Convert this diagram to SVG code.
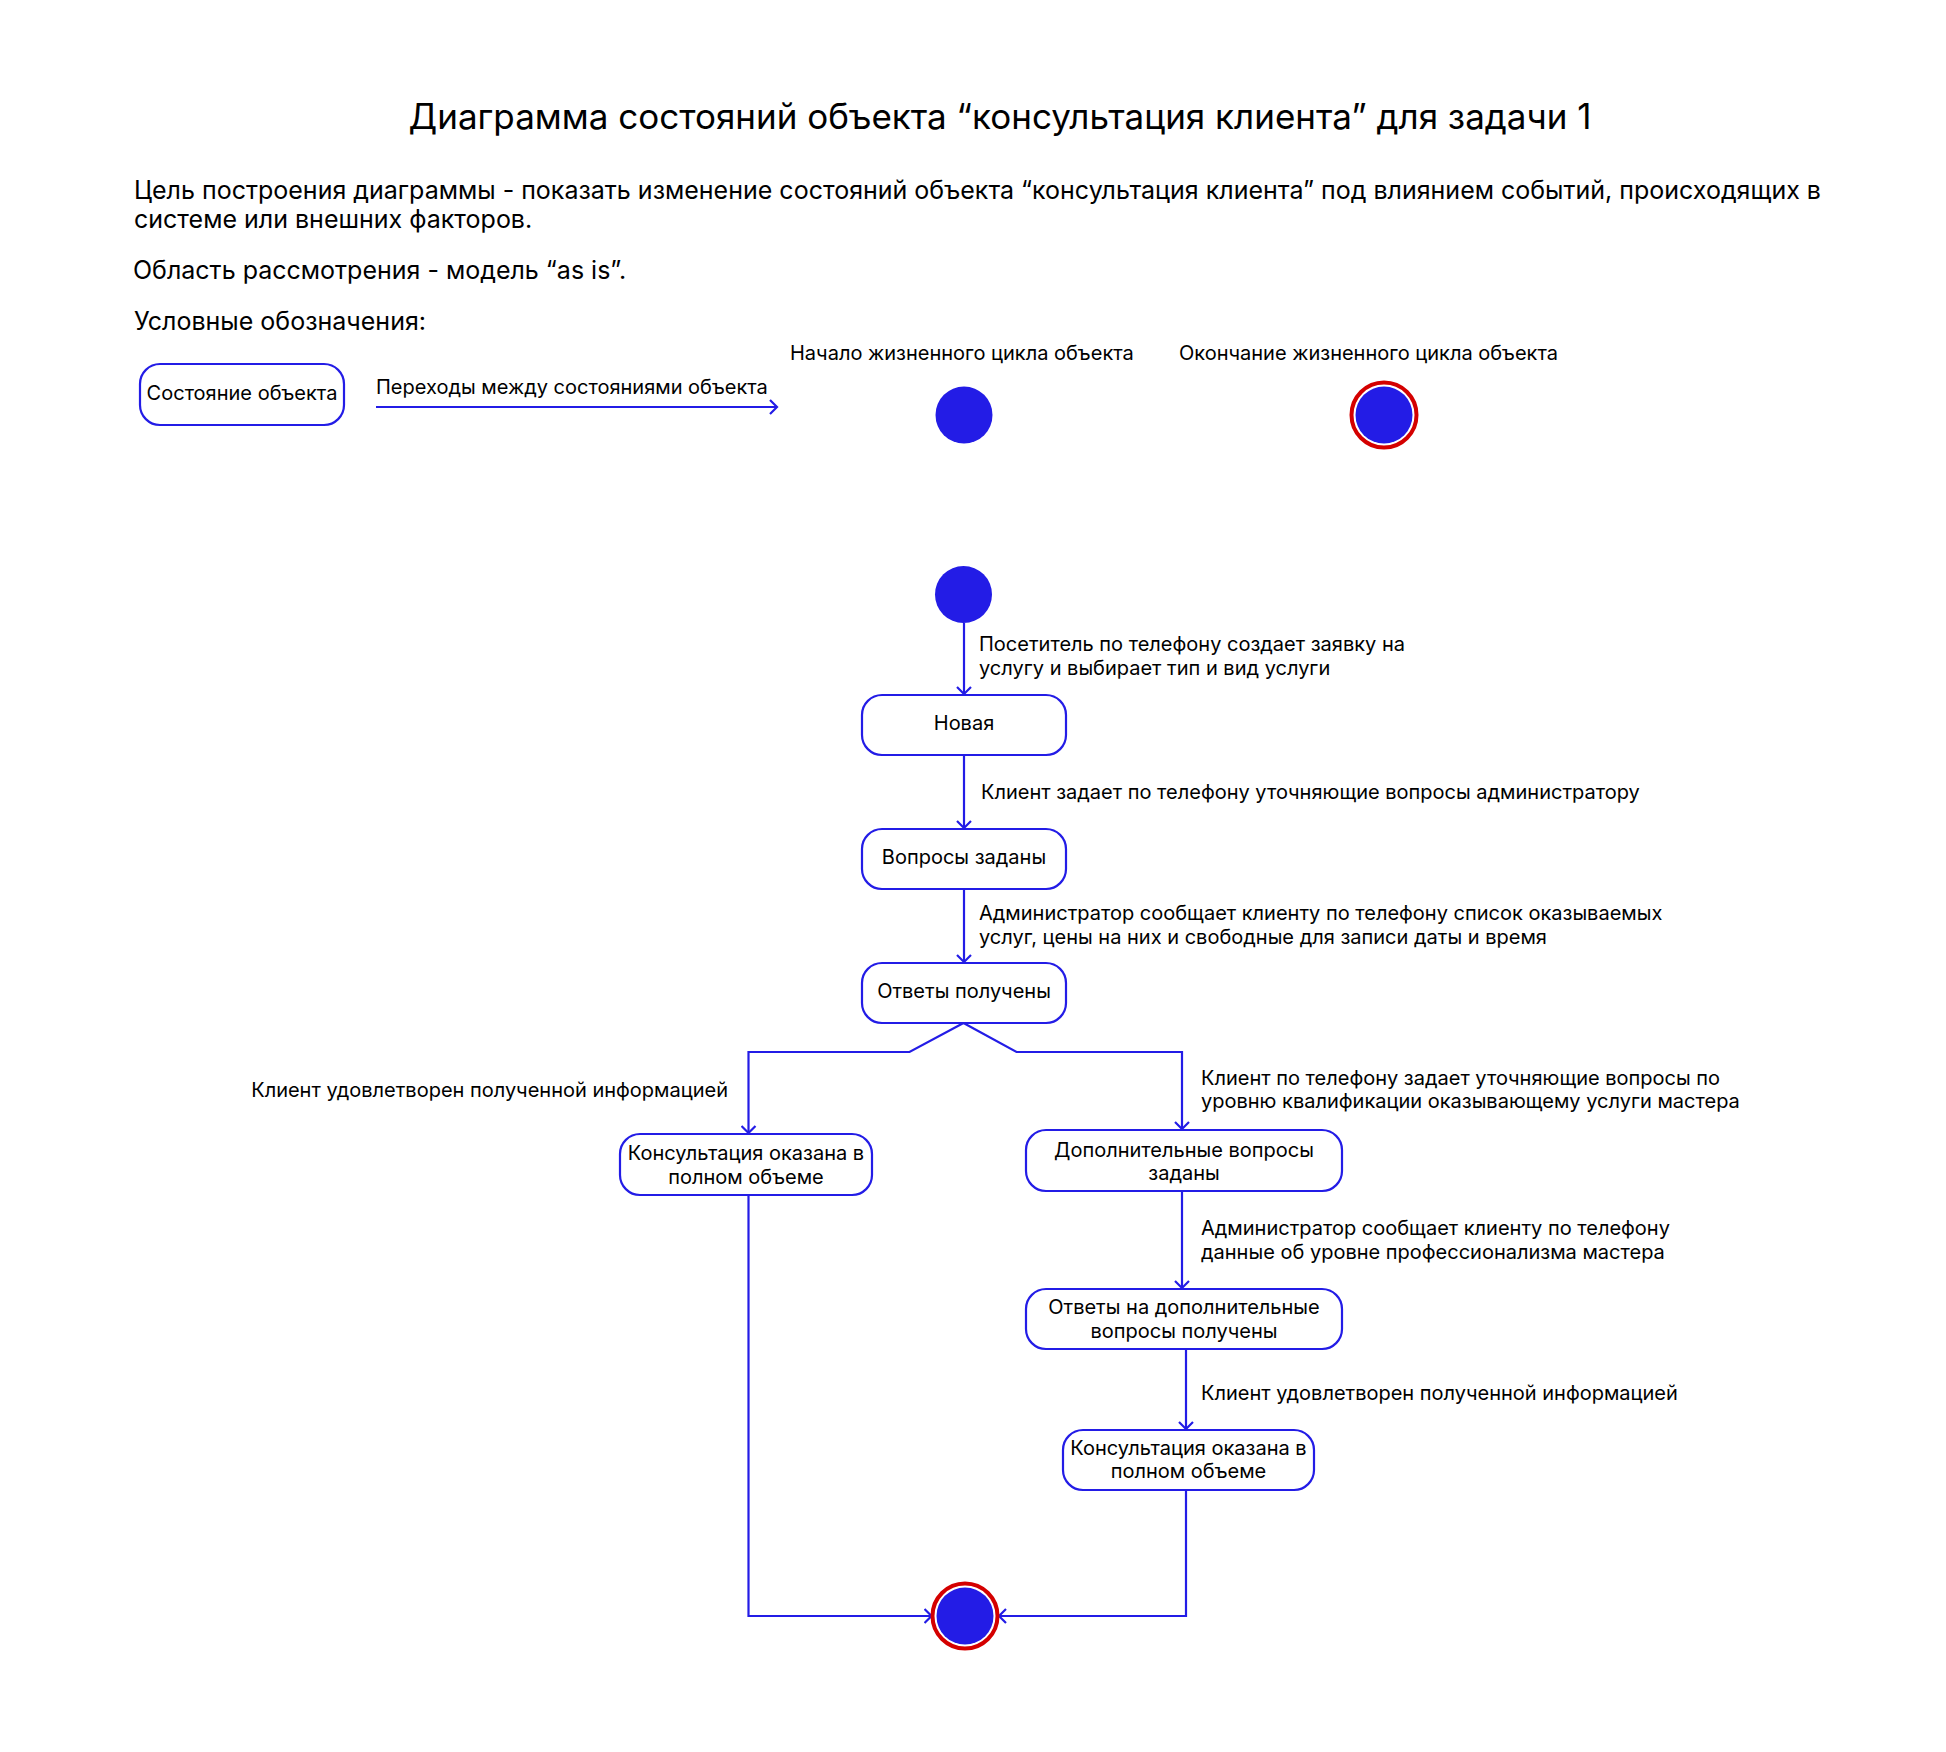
<svg xmlns="http://www.w3.org/2000/svg" width="1946" height="1752" viewBox="0 0 1946 1752">
<style>
text{font-family:Inter,"Noto Sans",sans-serif;fill:#000}
.t{font-size:35px}
.p{font-size:25px}
.s{font-size:20px}
.c{text-anchor:middle}
.box{fill:#fff;stroke:#231CE6;stroke-width:2.2}
.ln{fill:none;stroke:#231CE6;stroke-width:2.2;marker-end:url(#arr)}
.st{fill:#231CE6}
.ring{fill:#fff;stroke:#D40000;stroke-width:4}
</style>
<defs>
<marker id="arr" markerUnits="userSpaceOnUse" viewBox="0 0 16 16" refX="8" refY="8" markerWidth="16" markerHeight="16" orient="auto">
<path d="M1,1 L8,8 L1,15" fill="none" stroke="#231CE6" stroke-width="2.2"/>
</marker>
</defs>
<rect width="1946" height="1752" fill="#fff"/>

<g id="header">
<text class="t c" x="1000" y="129">Диаграмма состояний объекта “консультация клиента” для задачи 1</text>
<text class="p" x="134" y="199">Цель построения диаграммы - показать изменение состояний объекта “консультация клиента” под влиянием событий, происходящих в</text>
<text class="p" x="134" y="228">системе или внешних факторов.</text>
<text class="p" x="133" y="279">Область рассмотрения - модель “as is”.</text>
<text class="p" x="134" y="330">Условные обозначения:</text>
</g>

<g id="legend">
<g id="legend-state">
<rect class="box" x="140" y="364" width="204" height="61" rx="20"/>
<text class="s c" x="242" y="400">Состояние объекта</text>
</g>
<g id="legend-transition">
<line class="ln" x1="376" y1="407" x2="777" y2="407"/>
<text class="s" x="376" y="394">Переходы между состояниями объекта</text>
</g>
<g id="legend-start">
<text class="s" x="790" y="360">Начало жизненного цикла объекта</text>
<circle class="st" cx="964" cy="415" r="28.5"/>
</g>
<g id="legend-end">
<text class="s" x="1179" y="360">Окончание жизненного цикла объекта</text>
<circle class="ring" cx="1384" cy="415" r="32.5"/>
<circle class="st" cx="1384" cy="415" r="28.5"/>
</g>
</g>

<g id="connectors">
<line class="ln" x1="964" y1="623" x2="964" y2="694"/>
<line class="ln" x1="964" y1="755" x2="964" y2="828"/>
<line class="ln" x1="964" y1="889" x2="964" y2="962"/>
<polyline class="ln" points="963.5,1023 909.5,1052 748.5,1052 748.5,1133"/>
<polyline class="ln" points="963.5,1023 1016.5,1052 1182,1052 1182,1129"/>
<line class="ln" x1="1182" y1="1191" x2="1182" y2="1288"/>
<line class="ln" x1="1186" y1="1349" x2="1186" y2="1429"/>
<polyline class="ln" points="748.5,1195 748.5,1616 931.5,1616"/>
<polyline class="ln" points="1186,1490 1186,1616 999,1616"/>
</g>

<g id="labels">
<text class="s" x="979" y="651">Посетитель по телефону создает заявку на</text>
<text class="s" x="979" y="675">услугу и выбирает тип и вид услуги</text>
<text class="s" x="981" y="799">Клиент задает по телефону уточняющие вопросы администратору</text>
<text class="s" x="979" y="920">Администратор сообщает клиенту по телефону список оказываемых</text>
<text class="s" x="979" y="944">услуг, цены на них и свободные для записи даты и время</text>
<text class="s" x="728" y="1097" text-anchor="end">Клиент удовлетворен полученной информацией</text>
<text class="s" x="1201" y="1085">Клиент по телефону задает уточняющие вопросы по</text>
<text class="s" x="1201" y="1108">уровню квалификации оказывающему услуги мастера</text>
<text class="s" x="1201" y="1235">Администратор сообщает клиенту по телефону</text>
<text class="s" x="1201" y="1259">данные об уровне профессионализма мастера</text>
<text class="s" x="1201" y="1400">Клиент удовлетворен полученной информацией</text>
</g>

<g id="start">
<circle class="st" cx="963.5" cy="594.5" r="28.5"/>
</g>
<g id="new">
<rect class="box" x="862" y="695" width="204" height="60" rx="20"/>
<text class="s c" x="964" y="730">Новая</text>
</g>
<g id="questions">
<rect class="box" x="862" y="829" width="204" height="60" rx="20"/>
<text class="s c" x="964" y="864">Вопросы заданы</text>
</g>
<g id="answers">
<rect class="box" x="862" y="963" width="204" height="60" rx="20"/>
<text class="s c" x="964" y="998">Ответы получены</text>
</g>
<g id="done-left">
<rect class="box" x="620" y="1134" width="252" height="61" rx="20"/>
<text class="s c" x="746" y="1160">Консультация оказана в</text>
<text class="s c" x="746" y="1184">полном объеме</text>
</g>
<g id="extra-questions">
<rect class="box" x="1026" y="1130" width="316" height="61" rx="20"/>
<text class="s c" x="1184" y="1157">Дополнительные вопросы</text>
<text class="s c" x="1184" y="1180">заданы</text>
</g>
<g id="extra-answers">
<rect class="box" x="1026" y="1289" width="316" height="60" rx="20"/>
<text class="s c" x="1184" y="1314">Ответы на дополнительные</text>
<text class="s c" x="1184" y="1338">вопросы получены</text>
</g>
<g id="done-right">
<rect class="box" x="1063" y="1430" width="251" height="60" rx="20"/>
<text class="s c" x="1188.5" y="1455">Консультация оказана в</text>
<text class="s c" x="1188.5" y="1478">полном объеме</text>
</g>
<g id="end">
<circle class="ring" cx="965" cy="1616" r="32.5"/>
<circle class="st" cx="965" cy="1616" r="28.5"/>
</g>
</svg>
